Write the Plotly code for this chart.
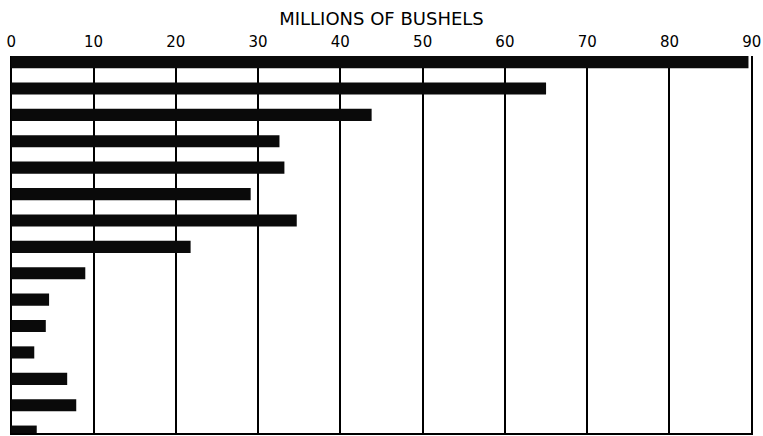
import plotly.graph_objects as go

# Data (millions of bushels), top to bottom
positions = list(range(15))
values = [89.6, 65.0, 43.8, 32.6, 33.2, 29.1, 34.7, 21.8, 9.0, 4.6, 4.2, 2.8, 6.8, 7.9, 3.1]
tick_vals = [0, 10, 20, 30, 40, 50, 60, 70, 80, 90]
tick_text = ["0", "10", "20", "30", "40", "50", "60", "70", "80", "90"]

fig = go.Figure(
    go.Bar(
        x=values,
        y=positions,
        orientation="h",
        width=0.46,
        marker=dict(color="#0a0a0a", line=dict(width=0)),
        hoverinfo="x",
    )
)

fig.update_layout(
    width=763,
    height=436,
    margin=dict(l=10, r=10, t=56, b=2, autoexpand=False),
    plot_bgcolor="white",
    paper_bgcolor="white",
    showlegend=False,
    font=dict(family="DejaVu Sans", color="black"),
    xaxis=dict(
        side="top",
        range=[-0.15, 90.15],
        tickvals=tick_vals,
        ticktext=tick_text,
        showgrid=True,
        gridcolor="black",
        gridwidth=2,
        zeroline=False,
        showline=False,
        ticks="",
        ticklabelstandoff=5,
        tickfont=dict(size=15, family="DejaVu Sans"),
        title=dict(text="MILLIONS OF BUSHELS", font=dict(size=18, family="DejaVu Sans"), standoff=2),
        automargin=False,
        fixedrange=True,
    ),
    yaxis=dict(
        range=[14.09, -0.23],
        showticklabels=False,
        showgrid=False,
        zeroline=False,
        ticks="",
        fixedrange=True,
    ),
    shapes=[
        dict(type="line", xref="paper", yref="paper", x0=0, x1=1, y0=0, y1=0,
             line=dict(color="black", width=2)),
    ],
)

fig.write_html(
    "out.html",
    config={"displayModeBar": False},
    post_script="document.body.style.margin='0';document.body.style.overflow='hidden';",
)
